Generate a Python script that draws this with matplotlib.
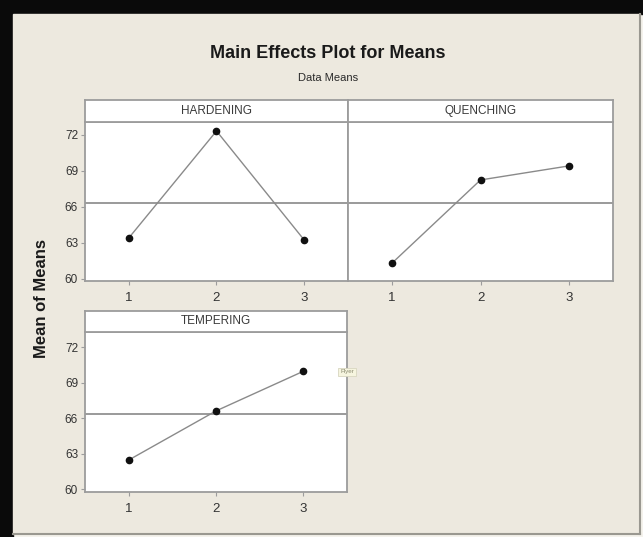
import numpy as np
import matplotlib
matplotlib.use('Agg')
import matplotlib.pyplot as plt
from matplotlib.patches import Rectangle

# factor levels and mean response per level
levels = [1, 2, 3]
hardening = [63.42, 72.33, 63.25]
quenching = [61.33, 68.25, 69.42]
tempering = [62.45, 66.60, 69.95]
y_ticks = [60, 63, 66, 69, 72]

grand_mean = np.mean(hardening + quenching + tempering)

W, H = 643, 537
plt.rcParams['font.family'] = ['Liberation Sans', 'DejaVu Sans']

fig = plt.figure(figsize=(W / 100, H / 100), dpi=100, facecolor='#f4f2ec')


def box(x0, y0, x1, y1):
    # pixel box (top-left origin) -> figure fraction rect
    return [x0 / W, 1 - y1 / H, (x1 - x0) / W, (y1 - y0) / H]


# window-like frame: black top/left band, beige body
bg = fig.add_axes([0, 0, 1, 1])
bg.set_xlim(0, W)
bg.set_ylim(H, 0)
bg.axis('off')
bg.add_patch(Rectangle((0, 0), W, H, color='#f4f2ec'))
bg.add_patch(Rectangle((0, 0), W, 14, color='#0a0a0a'))
bg.add_patch(Rectangle((0, 0), 13, H, color='#0a0a0a'))
bg.add_patch(Rectangle((13, 14), 627, 520, color='#ede9df'))
bg.plot([640, 640], [14, 534], color='#9a9890', lw=1.5)
bg.plot([13, 640], [534, 534], color='#9a9890', lw=1.5)

fig.text(328 / W, 1 - 53 / H, 'Main Effects Plot for Means', ha='center', va='center',
         fontsize=13, fontweight='bold', color='#1a1a1a')
fig.text(328 / W, 1 - 78 / H, 'Data Means', ha='center', va='center',
         fontsize=8, color='#2a2a2a')
fig.text(42 / W, 1 - 298 / H, 'Mean of Means', ha='center', va='center', rotation=90,
         fontsize=12, fontweight='bold', color='#1a1a1a')

frame_col = '#9c9c9c'


def panel(plot_px, strip_px, name, values, ylim, show_y):
    ax = fig.add_axes(box(*plot_px))
    ax.set_facecolor('white')
    ax.axhline(grand_mean, color='#929292', lw=1.3, zorder=1)
    ax.plot(levels, values, color='#8a8a8a', lw=1.0, zorder=2)
    ax.plot(levels, values, 'o', color='#101010', ms=4.5, zorder=3)
    ax.set_xlim(0.5, 3.5)
    ax.set_ylim(*ylim)
    ax.set_xticks(levels)
    ax.set_xticklabels([str(v) for v in levels])
    if show_y:
        ax.set_yticks(y_ticks)
        ax.set_yticklabels([str(v) for v in y_ticks])
    else:
        ax.set_yticks([])
    ax.tick_params(axis='both', colors='#9c9c9c', labelcolor='#333333',
                   labelsize=8.5, length=3, width=0.8, pad=2)
    ax.tick_params(axis='x', pad=5, labelsize=9.5)
    for s in ax.spines.values():
        s.set_color(frame_col)
        s.set_linewidth(1.3)

    st = fig.add_axes(box(*strip_px))
    st.set_facecolor('white')
    st.set_xticks([])
    st.set_yticks([])
    for s in st.spines.values():
        s.set_color(frame_col)
        s.set_linewidth(1.3)
    st.text(0.5, 0.5, name, ha='center', va='center', transform=st.transAxes,
            fontsize=8.5, color='#3a3a3a')
    return ax


panel((85, 122, 348, 281), (85, 100, 348, 122), 'HARDENING', hardening, (59.83, 73.08), True)
panel((348, 122, 613, 281), (348, 100, 613, 122), 'QUENCHING', quenching, (59.83, 73.08), False)
panel((85, 332, 347, 492), (85, 311, 347, 332), 'TEMPERING', tempering, (59.75, 73.27), True)

# little tooltip box left over in the screenshot
fig.text(347 / W, 1 - 372 / H, 'Flyer', ha='center', va='center', fontsize=4.5,
         color='#8a8a70',
         bbox=dict(boxstyle='square,pad=0.3', fc='#f6f5df', ec='#d8d6c0', lw=0.6))

fig.savefig('out.png', dpi=100, facecolor=fig.get_facecolor())
